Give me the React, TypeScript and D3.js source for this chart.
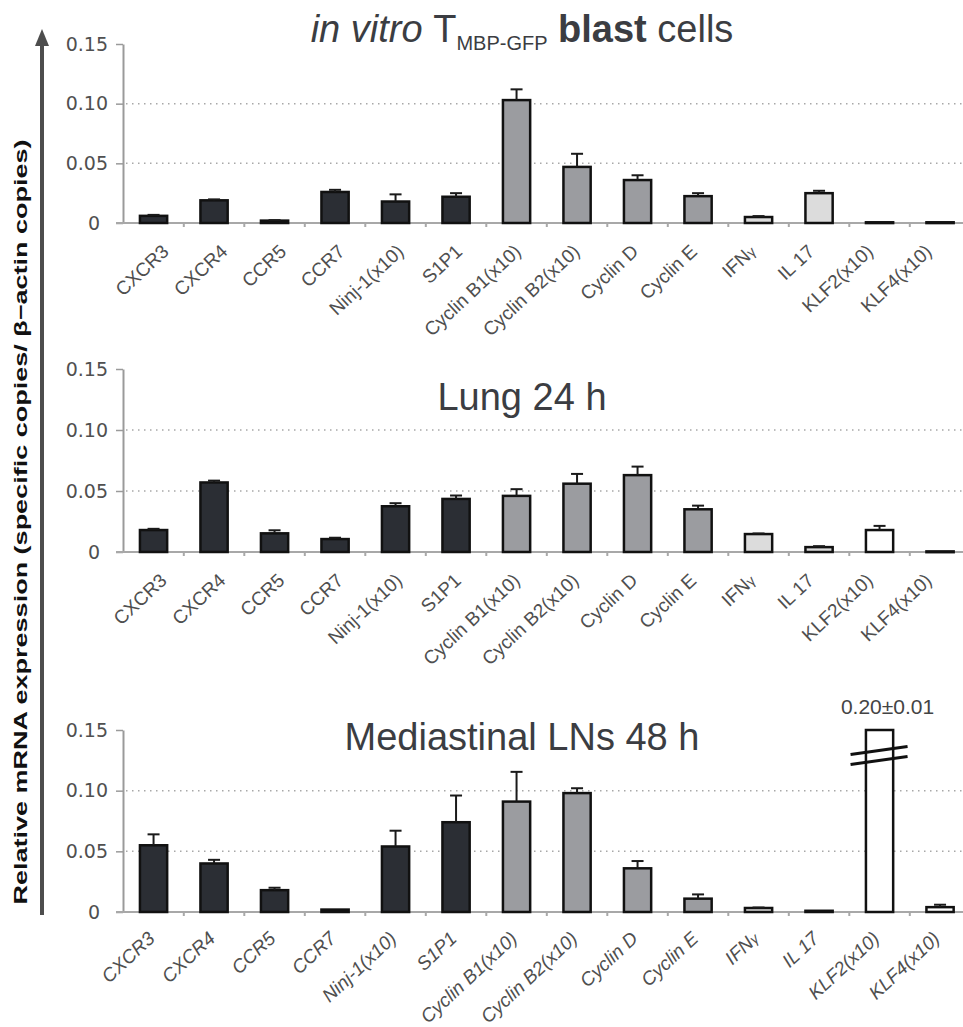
import React, { useEffect, useRef } from "react";
import * as d3 from "d3";

// genes on the x axis (same order in all three panels)
const categories = [
  "CXCR3", "CXCR4", "CCR5", "CCR7", "Ninj-1(x10)", "S1P1", "Cyclin B1(x10)",
  "Cyclin B2(x10)", "Cyclin D", "Cyclin E", "IFNγ", "IL 17", "KLF2(x10)", "KLF4(x10)",
];
const barFills = [
  "#2b2e34", "#2b2e34", "#2b2e34", "#2b2e34", "#2b2e34", "#2b2e34",
  "#9b9ca0", "#9b9ca0", "#9b9ca0", "#9b9ca0",
  "#dcdcdc", "#dcdcdc", "#ffffff", "#ffffff",
];

// in vitro T MBP-GFP blast cells
const blastValues = [0.006, 0.019, 0.002, 0.026, 0.018, 0.022, 0.103, 0.047, 0.036, 0.0225, 0.005, 0.025, 0.0006, 0.0006];
const blastErrors = [0.0008, 0.0008, 0.0004, 0.0018, 0.006, 0.003, 0.009, 0.011, 0.004, 0.0025, 0.0008, 0.002, 0, 0];

// Lung 24 h
const lungValues = [0.018, 0.057, 0.0153, 0.0106, 0.0375, 0.0435, 0.046, 0.056, 0.063, 0.035, 0.0147, 0.004, 0.018, 0.0005];
const lungErrors = [0.001, 0.0015, 0.0025, 0.0011, 0.0025, 0.0028, 0.0055, 0.008, 0.007, 0.003, 0.0005, 0.0008, 0.0034, 0];

// Mediastinal LNs 48 h
const lnValues = [0.055, 0.04, 0.018, 0.002, 0.054, 0.074, 0.091, 0.098, 0.036, 0.011, 0.0033, 0.001, 0.2, 0.004];
const lnErrors = [0.009, 0.003, 0.002, 0, 0.013, 0.022, 0.0245, 0.004, 0.006, 0.0035, 0.0004, 0, 0.01, 0.002];

const yTicks = [0, 0.05, 0.1, 0.15];
const yMax = 0.15;
const brokenLabel = "0.20±0.01";

const panels = [
  { key: "blast", values: blastValues, errors: blastErrors, yRange: [223, 44], labelRange: [170, 933], labelDy: 30, italic: false, titleY: 42 },
  { key: "lung", values: lungValues, errors: lungErrors, yRange: [552, 369], labelRange: [168, 933], labelDy: 30, italic: false, titleY: 410 },
  { key: "ln", values: lnValues, errors: lnErrors, yRange: [912, 730], labelRange: [156, 941], labelDy: 28, italic: true, titleY: 750 },
];

const App = () => {
  const svgRef = useRef<SVGSVGElement>(null);

  useEffect(() => {
    const svg = d3.select(svgRef.current);
    svg.selectAll("*").remove();

    const x = d3.scaleBand<string>().domain(categories).range([123.3, 970.3]);
    const step = x.step();
    const barW = step * 0.45;
    const titleColor = "#3b3d42";

    panels.forEach((p) => {
      const y = d3.scaleLinear().domain([0, yMax]).range(p.yRange);
      const g = svg.append("g");
      const y0 = y(0);

      // dotted grid lines
      g.selectAll("line.grid")
        .data([0.05, 0.1])
        .enter()
        .append("line")
        .attr("x1", 126)
        .attr("x2", 963)
        .attr("y1", (d) => y(d))
        .attr("y2", (d) => y(d))
        .attr("stroke", "#a8a8a8")
        .attr("stroke-width", 1.5)
        .attr("stroke-dasharray", "1.5,4.5");

      // y axis
      const yAxis = g
        .append("g")
        .attr("transform", "translate(123,0)")
        .call(
          d3
            .axisLeft(y)
            .tickValues(yTicks)
            .tickSize(7)
            .tickSizeOuter(0)
            .tickPadding(8)
            .tickFormat((d) => (+d === 0 ? "0" : d3.format(".2f")(+d)))
        );
      yAxis.select(".domain").attr("stroke", "#9a9a9a").attr("stroke-width", 2);
      yAxis.selectAll(".tick line").attr("stroke", "#9a9a9a").attr("stroke-width", 1.5);
      yAxis
        .selectAll(".tick text")
        .attr("fill", "#505050")
        .style("font-family", "'DejaVu Sans', sans-serif")
        .style("font-size", "19px")
        .attr("dx", (d) => (+d === 0 ? -8 : 0));

      // x axis line and category ticks
      g.append("line")
        .attr("x1", 116)
        .attr("x2", 970)
        .attr("y1", y0)
        .attr("y2", y0)
        .attr("stroke", "#a8a8a8")
        .attr("stroke-width", 2);
      g.selectAll("line.xtick")
        .data(categories.slice(1))
        .enter()
        .append("line")
        .attr("x1", (d) => x(d)!)
        .attr("x2", (d) => x(d)!)
        .attr("y1", y0)
        .attr("y2", y0 + 4)
        .attr("stroke", "#a8a8a8")
        .attr("stroke-width", 2);

      // bars
      g.selectAll("rect.bar")
        .data(categories)
        .enter()
        .append("rect")
        .attr("x", (d) => x(d)! + (step - barW) / 2)
        .attr("y", (d, i) => y(Math.min(p.values[i], yMax)))
        .attr("width", barW)
        .attr("height", (d, i) => Math.max(y0 - y(Math.min(p.values[i], yMax)), 0.8))
        .attr("fill", (d, i) => barFills[i])
        .attr("stroke", "#111")
        .attr("stroke-width", 2.5);

      // error bars
      const errIdx = categories
        .map((c, i) => i)
        .filter((i) => p.errors[i] > 0 && p.values[i] <= yMax);
      const eb = g.selectAll("g.err").data(errIdx).enter().append("g");
      eb.append("line")
        .attr("x1", (i) => x(categories[i])! + step / 2)
        .attr("x2", (i) => x(categories[i])! + step / 2)
        .attr("y1", (i) => y(p.values[i]))
        .attr("y2", (i) => y(p.values[i] + p.errors[i]))
        .attr("stroke", "#1a1a1a")
        .attr("stroke-width", 2);
      eb.append("line")
        .attr("x1", (i) => x(categories[i])! + step / 2 - 6)
        .attr("x2", (i) => x(categories[i])! + step / 2 + 6)
        .attr("y1", (i) => y(p.values[i] + p.errors[i]))
        .attr("y2", (i) => y(p.values[i] + p.errors[i]))
        .attr("stroke", "#1a1a1a")
        .attr("stroke-width", 2);

      // broken bar (value above the axis maximum)
      categories.forEach((c, i) => {
        if (p.values[i] <= yMax) return;
        const cx = x(c)! + step / 2;
        const by = y(0.129);
        [-5, 5].forEach((off) => {
          g.append("line")
            .attr("x1", cx - 29)
            .attr("x2", cx + 28)
            .attr("y1", by + off + 4)
            .attr("y2", by + off - 4)
            .attr("stroke", "#111")
            .attr("stroke-width", 3);
        });
        g.append("text")
          .attr("x", cx + 8)
          .attr("y", y(yMax) - 16)
          .attr("text-anchor", "middle")
          .attr("fill", "#444")
          .style("font-family", "'Liberation Sans', Arial, sans-serif")
          .style("font-size", "21px")
          .text(brokenLabel);
      });

      // rotated category labels
      const lx = d3.scalePoint<string>().domain(categories).range(p.labelRange);
      const labels = g
        .selectAll("text.cat")
        .data(categories)
        .enter()
        .append("text")
        .attr("transform", (d) => `translate(${lx(d)},${y0 + p.labelDy}) rotate(-43)`)
        .attr("text-anchor", "end")
        .attr("fill", "#4f4f4f")
        .style("font-family", "'Liberation Sans', Arial, sans-serif")
        .style("font-size", "19px")
        .style("font-style", p.italic ? "italic" : "normal");
      labels.each(function (d) {
        const t = d3.select(this);
        if (d === "IFNγ") {
          t.append("tspan").text("IFN");
          t.append("tspan").style("font-size", "14px").text("γ");
        } else {
          t.text(d);
        }
      });

      // panel titles
      const title = g
        .append("text")
        .attr("x", 522)
        .attr("y", p.titleY)
        .attr("text-anchor", "middle")
        .attr("fill", titleColor)
        .style("font-family", "'Liberation Sans', Arial, sans-serif")
        .style("font-size", "38px");
      if (p.key === "blast") {
        title.append("tspan").style("font-style", "italic").text("in vitro ");
        title.append("tspan").text("T");
        title.append("tspan").attr("dy", 8).style("font-size", "20px").text("MBP-GFP");
        title.append("tspan").attr("dy", -8).style("font-weight", "bold").text(" blast");
        title.append("tspan").text(" cells");
      } else if (p.key === "lung") {
        title.text("Lung 24 h");
      } else {
        title.text("Mediastinal LNs 48 h");
      }
    });

    // shared y axis arrow and label
    svg.append("line")
      .attr("x1", 42)
      .attr("x2", 42)
      .attr("y1", 915)
      .attr("y2", 44)
      .attr("stroke", "#4d4d4d")
      .attr("stroke-width", 4);
    svg.append("polygon")
      .attr("points", "42,29 35,46 49,46")
      .attr("fill", "#4d4d4d");
    svg.append("text")
      .attr("transform", "translate(27,522) rotate(-90)")
      .attr("text-anchor", "middle")
      .attr("fill", "#111")
      .attr("textLength", 765)
      .attr("lengthAdjust", "spacingAndGlyphs")
      .style("font-family", "'Liberation Sans', Arial, sans-serif")
      .style("font-size", "19px")
      .style("font-weight", "bold")
      .text("Relative mRNA expression (specific copies/ β−actin copies)");
  }, []);

  return (
    <svg
      ref={svgRef}
      width={963}
      height={1027}
      style={{ position: "absolute", left: 0, top: 0, background: "#fff" }}
    ></svg>
  );
};

export default App;
